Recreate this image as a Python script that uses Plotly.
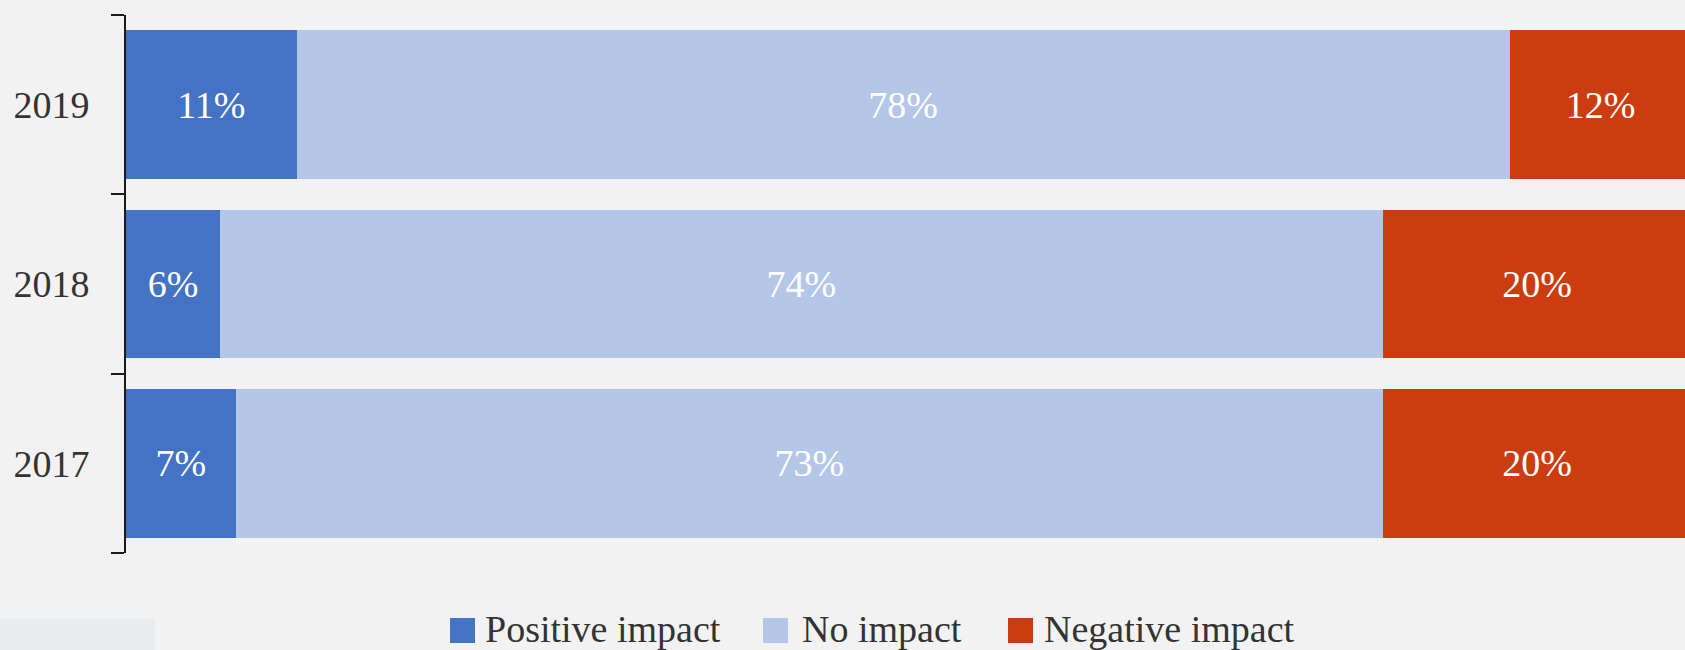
import plotly.graph_objects as go

years = ["2017", "2018", "2019"]
positive = [7.0, 6.0, 10.9]
no_impact = [73.3, 74.3, 77.5]
negative = [19.7, 19.7, 11.6]
series_names = ["Positive impact", "No impact", "Negative impact"]
series_colors = ["#4472c4", "#b4c7e7", "#cb3d10"]

FONT = "Liberation Serif"
W, H = 1685, 650
ML, MR, MT, MB = 126, 0, 15, 97
PW, PH = W - ML - MR, H - MT - MB


def px_x(px):
    return (px - ML) / PW


def px_y(py):
    return (H - MB - py) / PH


fig = go.Figure()
for name, vals, col in zip(series_names, [positive, no_impact, negative], series_colors):
    fig.add_trace(go.Bar(
        y=years, x=vals, name=name, orientation="h",
        marker=dict(color=col, line=dict(width=0)),
        text=[f"{int(v + 0.5)}%" for v in vals],
        textposition="inside", insidetextanchor="middle",
        textfont=dict(family=FONT, size=38, color="white"),
        constraintext="none",
        showlegend=False,
    ))

# manual legend (large square swatches)
sq_left = [450, 763, 1008]
txt_left = [483, 800, 1042]
for name, col, sx, tx in zip(series_names, series_colors, sq_left, txt_left):
    fig.add_shape(type="rect", xref="paper", yref="paper",
                  x0=px_x(sx), x1=px_x(sx + 25), y0=px_y(643), y1=px_y(618),
                  fillcolor=col, line=dict(width=0))
    fig.add_annotation(xref="paper", yref="paper", x=px_x(tx), y=px_y(629),
                       xanchor="left", yanchor="middle", showarrow=False,
                       text=name, font=dict(family=FONT, size=38, color="#333333"))

# faint overlay box at bottom-left of the reference capture
fig.add_shape(type="rect", xref="paper", yref="paper",
              x0=px_x(0), x1=px_x(155), y0=px_y(650), y1=px_y(619),
              fillcolor="#e8ecef", line=dict(width=0), layer="below")

fig.update_layout(
    width=W, height=H,
    barmode="stack", bargap=0.17,
    paper_bgcolor="#f2f2f2", plot_bgcolor="#f2f2f2",
    margin=dict(l=ML, r=MR, t=MT, b=MB, pad=0),
    font=dict(family=FONT),
    xaxis=dict(range=[0, 99.6], visible=False, showgrid=False, zeroline=False),
    yaxis=dict(
        type="category", categoryorder="array", categoryarray=years,
        showline=True, linecolor="#1a1a1a", linewidth=2,
        ticks="outside", ticklen=13, tickwidth=2, tickcolor="#1a1a1a",
        tickson="boundaries", ticklabelstandoff=27,
        tickfont=dict(family=FONT, size=38, color="#333333"),
        showgrid=False, zeroline=False,
    ),
)

fig.write_html(
    "out.html",
    config={"displayModeBar": False},
    post_script="document.body.style.margin='0';document.body.style.overflow='hidden';",
)
